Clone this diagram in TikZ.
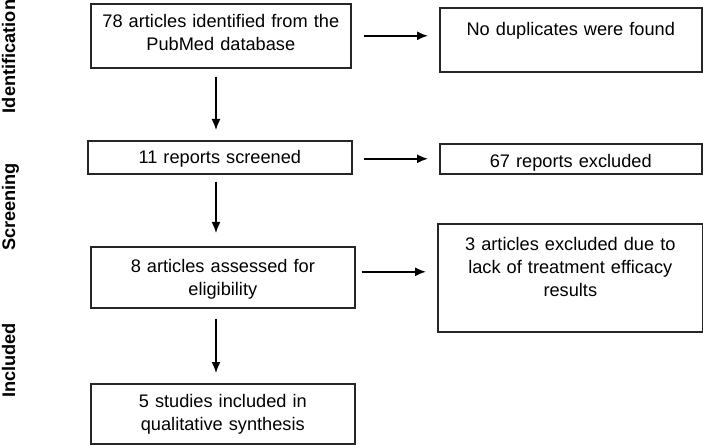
\documentclass[tikz,border=0pt]{standalone}
\usepackage{fontspec}
\setmainfont{Liberation Sans}
\usetikzlibrary{arrows.meta}

\newcommand{\flowfont}{\fontsize{18.2}{23}\selectfont}

\tikzset{
  stagebox/.style={draw=black!85, line width=1.6pt, inner sep=0pt, align=center, anchor=north west},
  flowarrow/.style={line width=1.5pt, -{Latex[length=11pt,width=9pt]}},
  sidelabel/.style={rotate=90, anchor=base, font=\flowfont\bfseries}
}

\begin{document}
\begin{tikzpicture}[x=1pt,y=-1pt,font=\flowfont]
        \useasboundingbox (0,0) rectangle (703,446);
        %% stage labels
        \node[sidelabel] (ident) at (15,56.5) {Identification};
        \node[sidelabel] (screen) at (15,207) {Screening};
        \node[sidelabel] (incl) at (15,360.5) {Included};
        %% main column
        \node[stagebox, text width=260pt, text height=24pt, text depth=40pt] (found) at (90,3) {78 articles identified from the\\PubMed database};
        \node[stagebox, text width=264pt, text height=23pt, text depth=10pt] (screened) at (87,140) {11 reports screened};
        \node[stagebox, text width=264pt, text height=26pt, text depth=35pt] (eligible) at (90,246) {8 articles assessed for\\eligibility};
        \node[stagebox, text width=264pt, text height=24pt, text depth=36pt] (included) at (90,383) {5 studies included in\\qualitative synthesis};
        %% side column
        \node[stagebox, text width=262pt, text height=28pt, text depth=36pt] (dupl) at (439,7) {No duplicates were found};
        \node[stagebox, text width=262pt, text height=24pt, text depth=6pt] (excl) at (439,143) {67 reports excluded};
        \node[stagebox, text width=265pt, text height=27pt, text depth=81pt] (nores) at (437,223) {3 articles excluded due to\\lack of treatment efficacy\\results};
        %% arrows
        \coordinate (spine) at (216,0);
        \draw[flowarrow, shorten <=8pt, shorten >=10pt] (found.south -| spine) -- (screened.north -| spine);
        \draw[flowarrow, shorten <=7pt, shorten >=13pt] (screened.south -| spine) -- (eligible.north -| spine);
        \draw[flowarrow, shorten <=10pt, shorten >=10pt] (eligible.south -| spine) -- (included.north -| spine);
        \draw[flowarrow, shorten <=12pt, shorten >=11pt] (found.east) -- (found.east -| dupl.west);
        \draw[flowarrow, shorten <=11pt, shorten >=11pt] ([yshift=-1.5pt]screened.east) -- ([yshift=-1.5pt]screened.east -| excl.west);
        \draw[flowarrow, shorten <=6pt, shorten >=11pt] ([yshift=5.5pt]eligible.east) -- ([yshift=5.5pt]eligible.east -| nores.west);
    \end{tikzpicture}
\end{document}
